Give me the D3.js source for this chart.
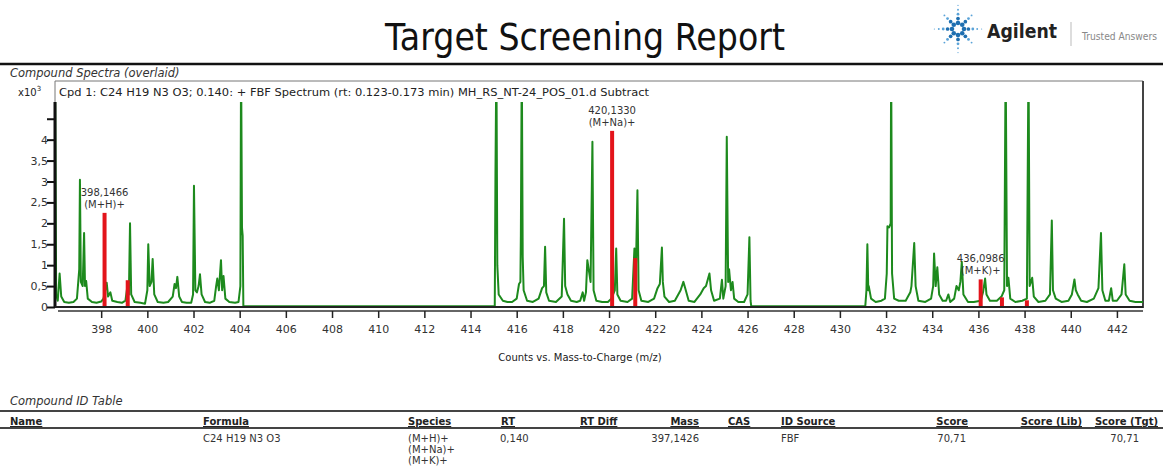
<!DOCTYPE html>
<html>
<head>
<meta charset="utf-8">
<script src="https://cdn.jsdelivr.net/npm/d3@7"></script>
<style>
body{margin:0;background:#fff;}
text{font-family:"DejaVu Sans",Verdana,sans-serif;}
</style>
</head>
<body>
<svg id="chart" width="1163" height="466"></svg>
<script>
// spectrum profile : [m/z, counts (x10^3)]
var spectrum = [
	[396.00,6.0],[396.05,0.3],[396.12,0.15],[396.20,0.8],[396.27,0.25],[396.40,0.12],[396.60,0.1],[396.80,0.12],
	[396.95,0.2],[397.05,0.9],[397.08,3.04],[397.12,0.6],[397.20,0.5],[397.26,1.77],[397.30,0.5],[397.35,0.62],
	[397.42,0.2],[397.60,0.12],[397.80,0.1],[398.00,0.13],[398.10,0.2],[398.24,0.58],[398.30,0.25],[398.40,0.35],
	[398.48,0.15],[398.70,0.12],[398.90,0.1],[399.05,0.15],[399.15,0.55],[399.20,0.3],[399.25,2.0],[399.30,0.3],
	[399.45,0.12],[399.70,0.1],[399.90,0.08],[400.00,0.4],[400.04,1.5],[400.10,0.5],[400.18,0.6],[400.23,1.15],
	[400.30,0.3],[400.45,0.12],[400.70,0.1],[400.90,0.12],[401.10,0.25],[401.18,0.55],[401.24,0.45],[401.30,0.72],
	[401.38,0.25],[401.50,0.12],[401.70,0.1],[401.90,0.1],[401.98,0.3],[402.02,2.9],[402.08,0.4],[402.15,0.35],
	[402.22,0.5],[402.28,0.78],[402.35,0.3],[402.50,0.12],[402.70,0.1],[402.90,0.15],[402.98,0.5],[403.03,0.68],
	[403.10,0.4],[403.19,1.12],[403.24,0.4],[403.30,0.74],[403.38,0.2],[403.55,0.12],[403.80,0.1],[403.95,0.12],
	[404.03,0.5],[404.06,6.0],[404.10,1.9],[404.13,1.7],[404.16,0.02],
	[415.05,0.02],[415.08,3.2],[415.12,6.0],[415.16,1.0],[415.22,0.3],[415.40,0.15],[415.60,0.12],[415.80,0.12],
	[416.00,0.2],[416.10,0.55],[416.16,0.6],[416.18,1.7],[416.22,6.0],[416.26,1.2],[416.30,0.4],[416.45,0.15],
	[416.70,0.12],[416.95,0.2],[417.10,0.45],[417.18,0.5],[417.23,1.44],[417.28,0.35],[417.40,0.15],[417.70,0.12],
	[417.95,0.25],[418.05,2.11],[418.10,0.5],[418.20,0.3],[418.35,0.15],[418.60,0.12],[418.75,0.15],[418.86,0.35],
	[418.92,0.15],[419.00,0.35],[419.06,1.12],[419.12,0.9],[419.20,0.6],[419.28,3.95],[419.33,0.4],[419.45,0.15],
	[419.70,0.12],[419.95,0.12],[420.10,0.2],[420.25,0.4],[420.31,1.4],[420.36,0.3],[420.50,0.15],[420.80,0.12],
	[421.00,0.2],[421.10,1.4],[421.15,0.5],[421.23,2.79],[421.28,0.4],[421.40,0.15],[421.70,0.12],[421.95,0.2],
	[422.10,0.45],[422.20,0.55],[422.29,1.42],[422.33,0.6],[422.40,0.25],[422.60,0.12],[422.85,0.15],[423.10,0.4],
	[423.22,0.6],[423.30,0.45],[423.45,0.15],[423.70,0.12],[423.95,0.3],[424.10,0.45],[424.20,0.5],[424.35,0.8],
	[424.42,0.4],[424.55,0.15],[424.80,0.2],[424.89,0.65],[424.95,0.2],[425.05,0.5],[425.10,4.07],[425.16,0.6],
	[425.20,0.9],[425.28,0.4],[425.35,0.6],[425.42,0.2],[425.60,0.12],[425.85,0.12],[426.00,0.3],[426.08,1.67],
	[426.13,0.15],[426.16,0.02],
	[431.10,0.02],[431.15,0.4],[431.19,1.5],[431.23,0.4],[431.25,0.5],[431.35,0.2],[431.55,0.12],[431.80,0.15],
	[431.95,0.2],[432.03,0.8],[432.06,1.93],[432.13,1.9],[432.20,2.0],[432.22,6.0],[432.26,0.8],[432.35,0.2],
	[432.55,0.15],[432.85,0.15],[433.05,0.35],[433.10,0.5],[433.22,1.53],[433.28,0.5],[433.40,0.15],[433.70,0.12],
	[433.95,0.2],[434.04,0.5],[434.08,1.28],[434.15,0.5],[434.22,0.95],[434.30,0.3],[434.45,0.15],[434.60,0.15],
	[434.70,0.3],[434.78,0.12],[434.95,0.2],[435.05,0.5],[435.15,0.4],[435.22,0.6],[435.28,1.08],[435.35,0.3],
	[435.55,0.12],[435.80,0.12],[436.10,0.15],[436.20,0.35],[436.29,0.68],[436.35,0.3],[436.50,0.15],[436.80,0.15],
	[437.00,0.25],[437.12,0.4],[437.18,6.0],[437.24,0.5],[437.30,0.7],[437.38,0.2],[437.60,0.12],[437.90,0.15],
	[438.10,0.2],[438.17,6.0],[438.22,0.5],[438.33,0.7],[438.40,0.25],[438.60,0.12],[438.90,0.15],[439.10,0.3],
	[439.18,2.07],[439.23,0.4],[439.35,0.2],[439.60,0.12],[439.90,0.15],[440.05,0.3],[440.16,0.66],[440.22,0.4],
	[440.30,0.3],[440.45,0.15],[440.70,0.12],[441.00,0.2],[441.20,0.45],[441.31,1.77],[441.37,0.4],[441.50,0.15],
	[441.65,0.15],[441.75,0.45],[441.82,0.15],[442.00,0.15],[442.20,0.3],[442.32,1.02],[442.38,0.3],[442.55,0.15],
	[442.80,0.12],[443.13,0.12]
];
// predicted isotope pattern (red sticks)
var matchMz = [398.1466, 399.15, 420.1330, 421.136, 436.0986, 437.02, 438.10];
var matchCounts = [2.25, 0.64, 4.21, 1.17, 0.66, 0.23, 0.16];
// annotated ions
var labelMz = [398.1466, 420.1330, 436.0986];
var labelMass = ["398,1466", "420,1330", "436,0986"];
var labelSpecies = ["(M+H)+", "(M+Na)+", "(M+K)+"];

var xTicks = [398,400,402,404,406,408,410,412,414,416,418,420,422,424,426,428,430,432,434,436,438,440,442];
var yTicks = [0,0.5,1,1.5,2,2.5,3,3.5,4,4.5];
var yTickLabels = ["0","0,5","1","1,5","2","2,5","3","3,5","4",""];

var tableHeaders = ["Name","Formula","Species","RT","RT Diff","Mass","CAS","ID Source","Score","Score (Lib)","Score (Tgt)"];
var tableRow = ["","C24 H19 N3 O3",["(M+H)+","(M+Na)+","(M+K)+"],"0,140","","397,1426","","FBF","70,71","","70,71"];

var svg = d3.select("#chart");
var W = 1163;
var plot = {left:55, right:1143, top:102, bottom:307, frameTop:81};

var x = d3.scaleLinear().domain([396.0, 443.13]).range([plot.left, plot.right]);
var y = d3.scaleLinear().domain([0, 4.9]).range([plot.bottom, plot.top]);

// ---- header ----
svg.append("text").text("Target Screening Report")
	.attr("x", 385).attr("y", 50)
	.attr("font-size", 37).attr("fill", "#111")
	.attr("textLength", 400).attr("lengthAdjust", "spacingAndGlyphs");
svg.append("line").attr("x1", 0).attr("x2", W).attr("y1", 64).attr("y2", 64)
	.attr("stroke", "#111").attr("stroke-width", 2.5);

// agilent spark
var logo = svg.append("g").attr("transform", "translate(958,29)");
d3.range(8).forEach(function(k){
	var a = k * Math.PI / 4;
	var len = (k % 2 === 0) ? 5 : 4;
	for (var i = 0; i < len; i++){
		var r = 6 + i * 4.4;
		logo.append("circle")
			.attr("cx", Math.cos(a) * r).attr("cy", Math.sin(a) * r)
			.attr("r", Math.max(0.6, 2.3 - i * 0.45))
			.attr("fill", i < 2 ? "#1f6fb0" : "#5aa3d8");
	}
});
svg.append("text").text("Agilent")
	.attr("x", 987).attr("y", 38)
	.attr("font-family", "Liberation Sans, Arial, sans-serif")
	.attr("font-weight", "bold").attr("font-size", 20).attr("fill", "#222")
	.attr("textLength", 70).attr("lengthAdjust", "spacingAndGlyphs");
svg.append("line").attr("x1", 1071).attr("x2", 1071).attr("y1", 22).attr("y2", 46)
	.attr("stroke", "#bbb").attr("stroke-width", 1);
svg.append("text").text("Trusted Answers")
	.attr("x", 1082).attr("y", 40)
	.attr("font-family", "Liberation Sans, Arial, sans-serif")
	.attr("font-size", 10).attr("fill", "#888")
	.attr("textLength", 75).attr("lengthAdjust", "spacingAndGlyphs");

svg.append("text").text("Compound Spectra (overlaid)")
	.attr("x", 10).attr("y", 77)
	.attr("font-size", 11.5).attr("font-style", "italic").attr("fill", "#333");

// ---- frame ----
svg.append("path")
	.attr("d", "M" + plot.left + "," + plot.top + " V" + plot.frameTop + " H" + plot.right + " V" + plot.bottom)
	.attr("fill", "none").attr("stroke", "#777").attr("stroke-width", 1);
svg.append("line").attr("x1", plot.right).attr("x2", plot.right)
	.attr("y1", plot.frameTop).attr("y2", plot.bottom + 1)
	.attr("stroke", "#444").attr("stroke-width", 2);

svg.append("text").text("Cpd 1: C24 H19 N3 O3; 0.140: + FBF Spectrum (rt: 0.123-0.173 min) MH_RS_NT-24_POS_01.d  Subtract")
	.attr("x", 59).attr("y", 96)
	.attr("font-size", 10).attr("fill", "#222")
	.attr("textLength", 590).attr("lengthAdjust", "spacingAndGlyphs");

var xlab = svg.append("text").attr("x", 18).attr("y", 96).attr("font-size", 10).attr("fill", "#222");
xlab.append("tspan").text("x10");
xlab.append("tspan").text("3").attr("font-size", 7).attr("dy", -5);

// ---- plot ----
svg.append("clipPath").attr("id", "clip")
	.append("rect").attr("x", plot.left).attr("y", plot.top)
	.attr("width", plot.right - plot.left).attr("height", plot.bottom - plot.top + 2);

var line = d3.line()
	.x(function(d){ return x(d[0]); })
	.y(function(d){ return y(d[1]); });

svg.append("path").datum(spectrum)
	.attr("clip-path", "url(#clip)")
	.attr("d", line)
	.attr("fill", "none")
	.attr("stroke", "#1d8a1d")
	.attr("stroke-width", 2)
	.attr("stroke-linejoin", "round");

svg.append("g").attr("clip-path", "url(#clip)")
	.selectAll("rect").data(matchMz).enter().append("rect")
	.attr("x", function(d){ return x(d) - 2; })
	.attr("width", 4)
	.attr("y", function(d, i){ return y(matchCounts[i]); })
	.attr("height", function(d, i){ return y(0) - y(matchCounts[i]); })
	.attr("fill", "#e3141b");

// annotations
labelMz.forEach(function(mz, i){
	var top = y(matchCounts[matchMz.indexOf(mz)]);
	var g = svg.append("g").attr("font-size", 10).attr("fill", "#333").attr("text-anchor", "middle");
	g.append("text").text(labelMass[i]).attr("x", x(mz)).attr("y", top - 17);
	g.append("text").text(labelSpecies[i]).attr("x", x(mz)).attr("y", top - 5);
});

// ---- axes ----
var yAxis = d3.axisLeft(y)
	.tickValues(yTicks)
	.tickSize(8)
	.tickFormat(function(d, i){ return yTickLabels[i]; });
var yG = svg.append("g").attr("transform", "translate(" + plot.left + ",0)").call(yAxis);
yG.select(".domain").remove();
yG.selectAll(".tick line").attr("stroke", "#111").attr("stroke-width", 2);
yG.selectAll(".tick text").attr("font-size", 11).attr("fill", "#333").attr("x", -7)
	.attr("font-family", "DejaVu Sans, Verdana, sans-serif");
svg.append("line").attr("x1", plot.left).attr("x2", plot.left)
	.attr("y1", plot.top).attr("y2", plot.bottom + 1)
	.attr("stroke", "#111").attr("stroke-width", 3);
svg.append("line").attr("x1", plot.left).attr("x2", plot.right)
	.attr("y1", plot.bottom).attr("y2", plot.bottom)
	.attr("stroke", "#222").attr("stroke-width", 2);

var xAxis = d3.axisBottom(x).tickValues(xTicks).tickSize(7).tickFormat(d3.format("d"));
var xG = svg.append("g").attr("transform", "translate(0," + (plot.bottom + 4) + ")").call(xAxis);
xG.select(".domain").attr("d", "M" + (plot.left + 3) + ",0 H" + plot.right)
	.attr("stroke", "#333").attr("stroke-width", 1.5);
xG.selectAll(".tick line").attr("stroke", "#222").attr("stroke-width", 1.5);
xG.selectAll(".tick text").attr("font-size", 11).attr("fill", "#333").attr("dy", "1.05em")
	.attr("font-family", "DejaVu Sans, Verdana, sans-serif");

svg.append("text").text("Counts vs. Mass-to-Charge (m/z)")
	.attr("x", 580).attr("y", 361).attr("text-anchor", "middle")
	.attr("font-size", 10).attr("fill", "#222");

// ---- compound table ----
svg.append("text").text("Compound ID Table")
	.attr("x", 10).attr("y", 405)
	.attr("font-size", 11.5).attr("font-style", "italic").attr("fill", "#333");
[411, 428].forEach(function(yy){
	svg.append("line").attr("x1", 0).attr("x2", W).attr("y1", yy).attr("y2", yy)
		.attr("stroke", "#444").attr("stroke-width", 2);
});
var colPos = [
	{x:10, a:"start"}, {x:203, a:"start"}, {x:408, a:"start"}, {x:515, a:"end"},
	{x:580, a:"start"}, {x:699, a:"end"}, {x:728, a:"start"}, {x:781, a:"start"},
	{x:968, a:"end"}, {x:1082, a:"end"}, {x:1158, a:"end"}
];
var valPos = [
	{x:10, a:"start"}, {x:203, a:"start"}, {x:408, a:"start"}, {x:500, a:"start"},
	{x:580, a:"start"}, {x:699, a:"end"}, {x:728, a:"start"}, {x:781, a:"start"},
	{x:966, a:"end"}, {x:1082, a:"end"}, {x:1139, a:"end"}
];
svg.append("g").selectAll("text").data(tableHeaders).enter().append("text")
	.text(function(d){ return d; })
	.attr("x", function(d, i){ return colPos[i].x; })
	.attr("text-anchor", function(d, i){ return colPos[i].a; })
	.attr("y", 425)
	.attr("font-size", 10).attr("font-weight", "bold").attr("fill", "#222")
	.style("text-decoration", "underline");
tableRow.forEach(function(v, i){
	var lines = Array.isArray(v) ? v : [v];
	lines.forEach(function(t, j){
		svg.append("text").text(t)
			.attr("x", valPos[i].x).attr("text-anchor", valPos[i].a)
			.attr("y", 442 + j * 11)
			.attr("font-size", 10).attr("fill", "#333");
	});
});
</script>
</body>
</html>
